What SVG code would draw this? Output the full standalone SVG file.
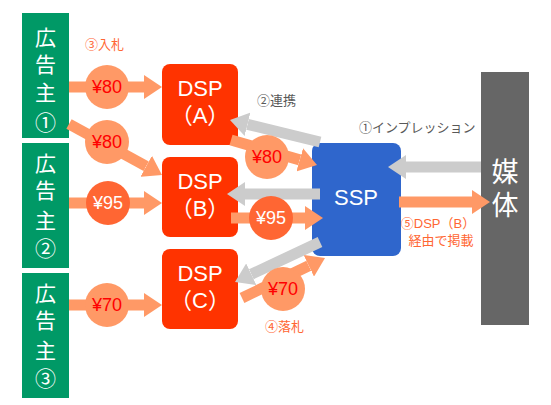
<svg xmlns="http://www.w3.org/2000/svg" width="551" height="405" viewBox="0 0 551 405">
<defs>
<marker id="ho" viewBox="0 0 18 24" refX="0" refY="12" markerWidth="18" markerHeight="24" markerUnits="userSpaceOnUse" orient="auto"><path d="M0,0 L18,12 L0,24 z" fill="#FF9966"/></marker>
<marker id="hg" viewBox="0 0 18 24" refX="0" refY="12" markerWidth="18" markerHeight="24" markerUnits="userSpaceOnUse" orient="auto"><path d="M0,0 L18,12 L0,24 z" fill="#CCCCCC"/></marker>
</defs>
<style>
text{font-family:"Liberation Sans","Noto Sans CJK JP",sans-serif;}
.adv rect{fill:#009966;}
.adv text{fill:#fff;font-size:21px;text-anchor:middle;}
.dsp rect{fill:#FF3300;}
.wt{fill:#fff;text-anchor:middle;}
.o{stroke:#FF9966;stroke-width:11;fill:none;marker-end:url(#ho);}
.g{stroke:#CCCCCC;stroke-width:11;fill:none;marker-end:url(#hg);}
.c1{fill:#FF9966;}
.c2{fill:#FF6633;}
.ct1{fill:#FF0000;font-size:18px;text-anchor:middle;}
.ct2{fill:#FFFFFF;font-size:18px;text-anchor:middle;}
.lo{fill:#FF6633;font-size:13px;}
.lg{fill:#595959;font-size:13px;}
</style>
<rect width="551" height="405" fill="#fff"/>
<g id="adv1" class="adv"><rect x="22" y="13" width="47" height="125"/>
<text x="45.5" y="45">広</text><text x="45.5" y="72">告</text><text x="45.5" y="100">主</text><text x="45.5" y="130">①</text></g>
<g id="adv2" class="adv"><rect x="22" y="143" width="47" height="125"/>
<text x="45.5" y="171">広</text><text x="45.5" y="198">告</text><text x="45.5" y="228">主</text><text x="45.5" y="256">②</text></g>
<g id="adv3" class="adv"><rect x="22" y="273" width="47" height="125"/>
<text x="45.5" y="301">広</text><text x="45.5" y="328">告</text><text x="45.5" y="358">主</text><text x="45.5" y="386">③</text></g>
<g id="dspA" class="dsp"><rect x="162" y="64" width="76" height="81" rx="8"/>
<text class="wt" x="200" y="96" font-size="22">DSP</text><text class="wt" x="200" y="123" font-size="22">（A）</text></g>
<g id="dspB" class="dsp"><rect x="162" y="157" width="76" height="80" rx="8"/>
<text class="wt" x="200" y="189" font-size="22">DSP</text><text class="wt" x="200" y="216" font-size="22">（B）</text></g>
<g id="dspC" class="dsp"><rect x="162" y="249" width="76" height="80" rx="8"/>
<text class="wt" x="200" y="281" font-size="22">DSP</text><text class="wt" x="200" y="308" font-size="22">（C）</text></g>
<g id="ssp"><rect x="312" y="143" width="89" height="113" rx="8" fill="#2F66CC"/>
<text class="wt" x="356" y="205" font-size="22">SSP</text></g>
<g id="media"><rect x="481" y="72" width="48" height="253" fill="#666666"/>
<text class="wt" x="505" y="182" font-size="27">媒</text><text class="wt" x="505" y="215" font-size="27">体</text></g>
<g id="connectors">
<line class="o" x1="69" y1="87" x2="144" y2="87"/>
<line class="o" x1="69" y1="124" x2="146.2" y2="166.3"/>
<line class="o" x1="69" y1="203" x2="144" y2="203"/>
<line class="o" x1="69" y1="305" x2="144" y2="305"/>
<line class="o" x1="231" y1="140" x2="299.7" y2="159.9"/>
<line class="o" x1="231" y1="218" x2="305" y2="218"/>
<line class="o" x1="242" y1="298" x2="308.8" y2="265.8"/>
<line class="o" x1="399" y1="202" x2="472" y2="202"/>
<line class="g" x1="320" y1="142" x2="247.5" y2="124.3"/>
<line class="g" x1="320" y1="194" x2="245" y2="194"/>
<line class="g" x1="320" y1="242" x2="251.3" y2="274.3"/>
<line class="g" x1="481" y1="167" x2="406" y2="167"/>
<circle class="c1" cx="107" cy="87" r="22"/><text class="ct1" x="107" y="93">¥80</text>
<circle class="c1" cx="107" cy="142" r="22"/><text class="ct1" x="107" y="148">¥80</text>
<circle class="c2" cx="108" cy="203" r="22"/><text class="ct2" x="108" y="209">¥95</text>
<circle class="c1" cx="107" cy="305" r="22"/><text class="ct1" x="107" y="311">¥70</text>
<circle class="c1" cx="267" cy="157" r="22"/><text class="ct1" x="267" y="163">¥80</text>
<circle class="c2" cx="271" cy="218" r="22"/><text class="ct2" x="271" y="224">¥95</text>
<circle class="c1" cx="283" cy="289" r="22"/><text class="ct1" x="283" y="295">¥70</text>
<text class="lo" x="85" y="49">③入札</text>
<text class="lg" x="257" y="105">②連携</text>
<text class="lg" x="359" y="132">①インプレッション</text>
<text class="lo" x="438" y="228" text-anchor="middle" font-size="12.5">⑤DSP（B）</text>
<text class="lo" x="441" y="245" text-anchor="middle">経由で掲載</text>
<text class="lo" x="265" y="331">④落札</text>
</g>
</svg>
